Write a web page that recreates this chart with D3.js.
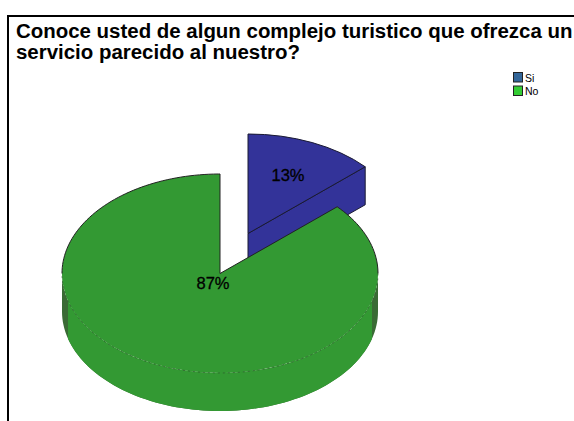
<!DOCTYPE html>
<html>
<head>
<meta charset="utf-8">
<script src="https://cdn.jsdelivr.net/npm/d3@7"></script>
<style>
  html, body { margin: 0; padding: 0; background: #fff; }
  svg { display: block; }
  text { font-family: "Liberation Sans", Arial, sans-serif; fill: #000; }
</style>
</head>
<body>
<div class="chart"></div>
<script>
const labels = ['Si', 'No'];
const values = [13.3, 86.7];
const percentLabels = ['13%', '87%'];
const topColors = ['#333399', '#339933'];
const legendColors = ['#336699', '#33cc33'];
const titleLines = [
    'Conoce usted de algun complejo turistico que ofrezca un',
    'servicio parecido al nuestro?'
];

const width = 574;
const height = 421;

const rx = 158;
const ry = 99.5;
const depth = 38;
// centres of the two slices, the first one is pulled out
const centers = [[248, 233.5], [220, 273.5]];

const svg = d3
    .select('.chart')
    .append('svg')
    .attr('width', width)
    .attr('height', height);

// frame, only top and left are inside the picture
svg.append('path')
    .attr('d', 'M8,421V16H574')
    .attr('fill', 'none')
    .attr('stroke', '#000')
    .attr('stroke-width', 2);

svg.selectAll('.title')
    .data(titleLines)
    .enter()
    .append('text')
    .attr('class', 'title')
    .attr('x', 16)
    .attr('y', (d, i) => 38 + i * 20.5)
    .attr('font-size', 20.45)
    .attr('font-weight', 'bold')
    .text(d => d);

// pie angles, clockwise from 12 o'clock in the order of the data
const pie = d3.pie().sort(null).value(d => d);
const slices = pie(values);

const arc = d3.arc().innerRadius(0).outerRadius(rx);

// point on the ellipse at a pie angle
const ex = (c, a) => c[0] + rx * Math.sin(a);
const ey = (c, a) => c[1] - ry * Math.cos(a);
const toRad = d => d * Math.PI / 180;

svg.append('defs')
    .append('clipPath')
    .attr('id', 'side-mid')
    .append('rect')
    .attr('x', centers[1][0] - rx + 6)
    .attr('y', 0)
    .attr('width', 2 * rx - 12)
    .attr('height', height);

// blue slice: cut face first, then the top
const blueEnd = slices[0].endAngle;
const bc = centers[0];
svg.append('path')
    .attr('d', d3.line()([
        bc,
        [ex(bc, blueEnd), ey(bc, blueEnd)],
        [ex(bc, blueEnd), ey(bc, blueEnd) + depth],
        [bc[0], bc[1] + depth]
    ]) + 'Z')
    .attr('fill', topColors[0])
    .attr('stroke', '#1a1a33')
    .attr('stroke-width', 1);

function drawTop(i, stroked) {
    svg.append('path')
        .attr('d', arc(slices[i]))
        .attr('transform', `translate(${centers[i]}) scale(1,${ry / rx})`)
        .attr('fill', topColors[i])
        .attr('stroke', stroked ? '#1a1a33' : 'none')
        .attr('stroke-width', 1)
        .attr('vector-effect', 'non-scaling-stroke');
}
drawTop(0, true);

// green rim: the lower half of the ellipse pushed down by the depth
const gc = centers[1];
const rimAngles = d3.range(90, 271, 2).map(toRad);
const rimTop = rimAngles.map(a => [ex(gc, a), ey(gc, a)]);
const rimBottom = rimAngles.map(a => [ex(gc, a), ey(gc, a) + depth]).reverse();
const rimPath = d3.line()(rimTop.concat(rimBottom)) + 'Z';

svg.append('path').attr('d', rimPath).attr('fill', '#3a6b35');
svg.append('path')
    .attr('d', rimPath)
    .attr('fill', topColors[1])
    .attr('clip-path', 'url(#side-mid)');

drawTop(1, false);

// solid outline on the back half of the green top, with the two cut edges
const greenStart = slices[1].startAngle;
const backRight = d3.range(greenStart, toRad(90), 0.03).concat(toRad(90));
const backLeft = d3.range(toRad(270), toRad(360), 0.03).concat(toRad(360));
svg.append('path')
    .attr('d', d3.line()(
        backLeft.map(a => [ex(gc, a), ey(gc, a)])
            .concat([gc])
            .concat(backRight.map(a => [ex(gc, a), ey(gc, a)]))
    ))
    .attr('fill', 'none')
    .attr('stroke', '#222')
    .attr('stroke-width', 1);

// thin broken line where the top meets the rim
svg.append('path')
    .attr('d', d3.line()(rimTop))
    .attr('fill', 'none')
    .attr('stroke', '#2c5c2c')
    .attr('stroke-width', 0.7)
    .attr('stroke-dasharray', '2,3');

svg.selectAll('.pct')
    .data(percentLabels)
    .enter()
    .append('text')
    .attr('class', 'pct')
    .attr('x', (d, i) => [288, 213][i])
    .attr('y', (d, i) => [181, 288.5][i])
    .attr('text-anchor', 'middle')
    .attr('font-size', 16.5)
    .attr('stroke', '#000')
    .attr('stroke-width', 0.3)
    .text(d => d);

// legend
const legendY = d3.scaleBand().domain(labels).range([72, 99]);

svg.selectAll('.swatch')
    .data(labels)
    .enter()
    .append('rect')
    .attr('class', 'swatch')
    .attr('x', 513.5)
    .attr('y', d => legendY(d) + 0.5)
    .attr('width', 9)
    .attr('height', 9.5)
    .attr('fill', (d, i) => legendColors[i])
    .attr('stroke', '#222')
    .attr('stroke-width', 1);

svg.selectAll('.legend-label')
    .data(labels)
    .enter()
    .append('text')
    .attr('class', 'legend-label')
    .attr('x', 525)
    .attr('y', d => legendY(d) + 9.5)
    .attr('font-size', 10.5)
    .text(d => d);
</script>
</body>
</html>
